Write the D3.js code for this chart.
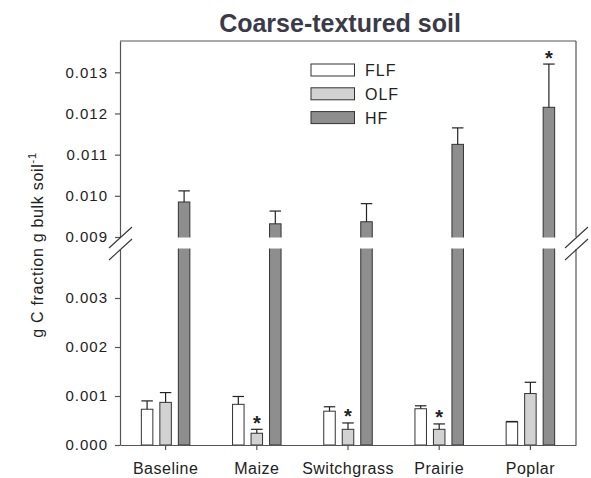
<!DOCTYPE html>
<html>
<head>
<meta charset="utf-8">
<script src="https://cdn.jsdelivr.net/npm/d3@7"></script>
<style>
  body { margin: 0; background: #fff; }
  text { font-family: "Liberation Sans", Arial, sans-serif; }
</style>
</head>
<body>
<svg id="chart" width="591" height="478"></svg>
<script>
// values (g C fraction / g bulk soil)
let categories = ['Baseline', 'Maize', 'Switchgrass', 'Prairie', 'Poplar'];
let seriesNames = ['FLF', 'OLF', 'HF'];
let flf = [0.00073, 0.00083, 0.00069, 0.00074, 0.00047];
let flfErr = [0.00017, 0.00016, 0.00009, 0.00006, 0.00001];
let olf = [0.00087, 0.00024, 0.00032, 0.00032, 0.00105];
let olfErr = [0.00020, 0.00008, 0.00013, 0.00011, 0.00023];
let hf = [0.00985, 0.00932, 0.00937, 0.01125, 0.01215];
let hfErr = [0.00027, 0.00031, 0.00044, 0.00040, 0.00105];
let olfStars = [false, true, true, true, false];
let hfStars = [false, false, false, false, true];
let lowerTicks = [0, 0.001, 0.002, 0.003];
let upperTicks = [0.009, 0.010, 0.011, 0.012, 0.013];

let fills = {FLF: '#ffffff', OLF: '#d2d2d2', HF: '#8e8e8e'};
let axisColor = '#555';

let plotLeft = 120, plotRight = 576, plotTop = 41, plotBottom = 445;
let breakLow = 249, breakHigh = 237;

let svg = d3.select('#chart');

let x = d3.scaleBand().domain(categories).range([plotLeft, plotRight]).padding(0);
let xSub = d3.scalePoint().domain(seriesNames).range([-18.5, 18.5]);
let barWidth = 11.5;

// broken y axis: two linear pieces
let yLower = d3.scaleLinear().domain([0, 0.004]).range([plotBottom, breakLow]);
let yUpper = d3.scaleLinear().domain([0.009, 0.01376]).range([breakHigh, plotTop]);
let y = (v) => v >= 0.009 ? yUpper(v) : yLower(v);

let data = [];
categories.forEach((c, i) => {
  data.push({cat: c, key: 'FLF', value: flf[i], err: flfErr[i], star: false});
  data.push({cat: c, key: 'OLF', value: olf[i], err: olfErr[i], star: olfStars[i]});
  data.push({cat: c, key: 'HF', value: hf[i], err: hfErr[i], star: hfStars[i]});
});

let cx = (d) => x(d.cat) + x.bandwidth() / 2 + xSub(d.key);

// bars
svg.append('g').selectAll('rect')
    .data(data)
    .join('rect')
    .attr('x', (d) => cx(d) - barWidth / 2)
    .attr('y', (d) => y(d.value))
    .attr('width', barWidth)
    .attr('height', (d) => yLower(0) - y(d.value))
    .attr('fill', (d) => fills[d.key])
    .attr('stroke', '#333')
    .attr('stroke-width', 1);

// error bars (upper side only)
let err = svg.append('g').attr('stroke', '#222').attr('stroke-width', 1.2);
data.forEach((d) => {
  let y0 = y(d.value), y1 = y(d.value + d.err);
  err.append('line').attr('x1', cx(d)).attr('x2', cx(d)).attr('y1', y0).attr('y2', y1);
  err.append('line').attr('x1', cx(d) - barWidth / 2).attr('x2', cx(d) + barWidth / 2)
      .attr('y1', y1).attr('y2', y1);
});

// white gap across the broken region
svg.append('rect')
    .attr('x', plotLeft + 1).attr('y', breakHigh + 0.5)
    .attr('width', plotRight - plotLeft - 2).attr('height', breakLow - breakHigh - 1)
    .attr('fill', '#fff');

// significance stars
svg.append('g').selectAll('text')
    .data(data.filter((d) => d.star))
    .join('text')
    .attr('x', cx)
    .attr('y', (d) => y(d.value + d.err) + 0.5)
    .attr('text-anchor', 'middle')
    .attr('font-size', 20)
    .attr('font-weight', 'bold')
    .attr('fill', '#222')
    .text('*');

// axes
let fmt = d3.format('.3f');
let styleAxis = (g) => {
  g.selectAll('path, line').attr('stroke', axisColor).attr('stroke-width', 1.2);
  g.selectAll('text').attr('font-size', 15).attr('fill', '#222')
      .attr('letter-spacing', 1).attr('font-family', '"Liberation Sans", Arial, sans-serif');
};

svg.append('g').attr('transform', `translate(${plotLeft},0)`)
    .call(d3.axisLeft(yLower).tickValues(lowerTicks).tickFormat(fmt).tickSize(5).tickSizeOuter(0).tickPadding(7))
    .call(styleAxis);
svg.append('g').attr('transform', `translate(${plotLeft},0)`)
    .call(d3.axisLeft(yUpper).tickValues(upperTicks).tickFormat(fmt).tickSize(5).tickSizeOuter(0).tickPadding(7))
    .call(styleAxis);

svg.append('g').attr('transform', `translate(0,${plotBottom})`)
    .call(d3.axisBottom(x).tickSize(5).tickSizeOuter(0).tickPadding(13))
    .call(styleAxis)
    .call((g) => g.selectAll('text').attr('font-size', 16).attr('letter-spacing', 0.5));

// frame: top line and right side
let frame = svg.append('g').attr('stroke', axisColor).attr('stroke-width', 1.2).attr('fill', 'none');
frame.append('line').attr('x1', plotLeft).attr('x2', plotRight).attr('y1', plotTop).attr('y2', plotTop);
frame.append('line').attr('x1', plotRight).attr('x2', plotRight).attr('y1', plotTop).attr('y2', breakHigh);
frame.append('line').attr('x1', plotRight).attr('x2', plotRight).attr('y1', breakLow).attr('y2', plotBottom);

// break marks on both sides
let slashes = svg.append('g').attr('stroke', '#333').attr('stroke-width', 1.1);
[plotLeft, plotRight].forEach((ax) => {
  [[248, 227], [260, 239]].forEach(([ya, yb]) => {
    slashes.append('line')
        .attr('x1', ax - 11).attr('y1', ya)
        .attr('x2', ax + 12).attr('y2', yb);
  });
});

// title
svg.append('text')
    .attr('x', 340).attr('y', 31.5)
    .attr('text-anchor', 'middle')
    .attr('font-size', 25)
    .attr('font-weight', 'bold')
    .attr('fill', '#3b3a48')
    .text('Coarse-textured soil');

// y label with superscript
let ylab = svg.append('text')
    .attr('transform', 'translate(43,245) rotate(-90)')
    .attr('text-anchor', 'middle')
    .attr('font-size', 16)
    .attr('letter-spacing', 0.7)
    .attr('fill', '#222');
ylab.append('tspan').text('g C fraction g bulk soil');
ylab.append('tspan').attr('dy', -7).attr('font-size', 11).text('-1');

// legend
let legend = svg.append('g').attr('transform', 'translate(311,64)');
seriesNames.forEach((name, i) => {
  let row = legend.append('g').attr('transform', `translate(0,${i * 23.8})`);
  row.append('rect').attr('width', 43.5).attr('height', 12)
      .attr('fill', fills[name]).attr('stroke', '#333').attr('stroke-width', 1);
  row.append('text').attr('x', 54).attr('y', 12)
      .attr('font-size', 16).attr('letter-spacing', 1).attr('fill', '#222')
      .text(name);
});
</script>
</body>
</html>
